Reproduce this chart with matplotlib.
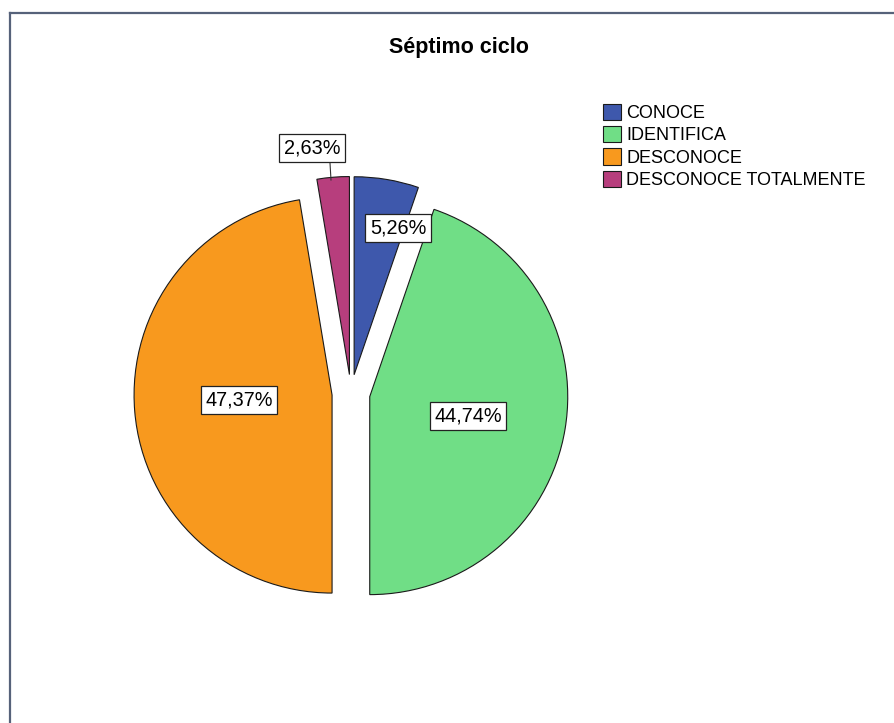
import matplotlib
matplotlib.use("Agg")
import matplotlib.pyplot as plt
from matplotlib.lines import Line2D

plt.rcParams['font.family'] = ['Liberation Sans', 'DejaVu Sans']

# datos
categorias = ["CONOCE", "IDENTIFICA", "DESCONOCE", "DESCONOCE TOTALMENTE"]
porcentajes = [5.26, 44.74, 47.37, 2.63]
etiquetas = ["5,26%", "44,74%", "47,37%", "2,63%"]
colores = ["#3E58AC", "#70DE86", "#F8991E", "#B73E7D"]

W, H = 895, 723
# posiciones de las etiquetas (pixeles de la imagen)
pos_etiquetas = [(398, 228), (468, 416), (239, 400), (312, 148)]

fig = plt.figure(figsize=(W / 100, H / 100), dpi=100)
ax = fig.add_axes([0, 0, 1, 1])

# explode va en unidades de datos (pixeles aqui)
wedges, _ = ax.pie(porcentajes, colors=colores, startangle=90, counterclock=False,
                   explode=[19] * 4, center=(351, H - 393.5), radius=198,
                   wedgeprops=dict(edgecolor="#1a1a1a", linewidth=0.8))

ax.set_xlim(0, W)
ax.set_ylim(0, H)
ax.set_aspect('equal')
ax.axis('off')

# linea guia para 2,63%
ax.add_line(Line2D([330, 331], [H - 163, H - 180], color="#333333", lw=0.8))

for (x, y), txt in zip(pos_etiquetas, etiquetas):
    ax.text(x, H - y, txt, ha='center', va='center', fontsize=14.3,
            bbox=dict(boxstyle='square,pad=0.22', fc='white', ec='#222222', lw=0.9))

ax.text(459, H - 48, "Séptimo ciclo", ha='center', va='center',
        fontsize=15.5, fontweight='bold')

ax.legend(wedges, categorias, loc='upper left', bbox_to_anchor=(603 / W, 1 - 104 / H),
          frameon=False, fontsize=13, handlelength=1.0, handleheight=1.0,
          handletextpad=0.3, labelspacing=0.22, borderpad=0, borderaxespad=0)

# marco
ax.add_line(Line2D([10, 10], [0, H - 13], color="#56627a", lw=1.6))
ax.add_line(Line2D([10, W], [H - 13, H - 13], color="#56627a", lw=1.6))

fig.savefig("out.png", dpi=100)
